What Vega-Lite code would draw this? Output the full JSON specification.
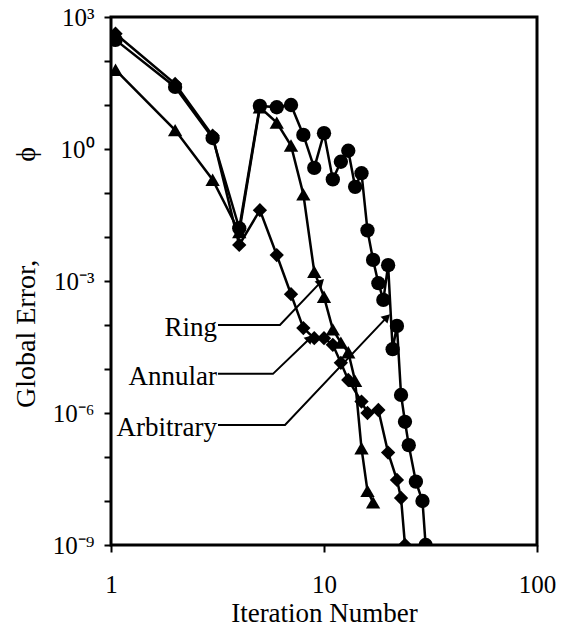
{
  "$schema": "https://vega.github.io/schema/vega-lite/v6.json",
  "width": 426,
  "height": 528,
  "autosize": {"type": "none"},
  "padding": {"left": 111, "top": 17, "right": 32, "bottom": 85},
  "background": "white",
  "datasets": {
    "series": [
      {"series": "Arbitrary", "n": 1.05, "phi": 302},
      {"series": "Arbitrary", "n": 2, "phi": 25.7},
      {"series": "Arbitrary", "n": 3, "phi": 1.78},
      {"series": "Arbitrary", "n": 4, "phi": 0.0158},
      {"series": "Arbitrary", "n": 5, "phi": 9.55},
      {"series": "Arbitrary", "n": 6, "phi": 8.9},
      {"series": "Arbitrary", "n": 7, "phi": 10.0},
      {"series": "Arbitrary", "n": 8, "phi": 2.09},
      {"series": "Arbitrary", "n": 9, "phi": 0.372},
      {"series": "Arbitrary", "n": 10, "phi": 2.29},
      {"series": "Arbitrary", "n": 11, "phi": 0.204},
      {"series": "Arbitrary", "n": 12, "phi": 0.513},
      {"series": "Arbitrary", "n": 13, "phi": 0.912},
      {"series": "Arbitrary", "n": 14, "phi": 0.138},
      {"series": "Arbitrary", "n": 15, "phi": 0.282},
      {"series": "Arbitrary", "n": 16, "phi": 0.0141},
      {"series": "Arbitrary", "n": 17, "phi": 0.00302},
      {"series": "Arbitrary", "n": 18, "phi": 0.000891},
      {"series": "Arbitrary", "n": 19, "phi": 0.000372},
      {"series": "Arbitrary", "n": 20, "phi": 0.00229},
      {"series": "Arbitrary", "n": 21, "phi": 2.82e-5},
      {"series": "Arbitrary", "n": 22, "phi": 9.55e-5},
      {"series": "Arbitrary", "n": 23, "phi": 2.57e-6},
      {"series": "Arbitrary", "n": 24, "phi": 6.31e-7},
      {"series": "Arbitrary", "n": 25, "phi": 1.86e-7},
      {"series": "Arbitrary", "n": 27, "phi": 2.75e-8},
      {"series": "Arbitrary", "n": 29, "phi": 1.0e-8},
      {"series": "Arbitrary", "n": 30, "phi": 1.0e-9},
      {"series": "Annular", "n": 1.05, "phi": 417},
      {"series": "Annular", "n": 2, "phi": 30.2},
      {"series": "Annular", "n": 3, "phi": 2.0},
      {"series": "Annular", "n": 4, "phi": 0.0066},
      {"series": "Annular", "n": 5, "phi": 0.0407},
      {"series": "Annular", "n": 6, "phi": 0.00389},
      {"series": "Annular", "n": 7, "phi": 0.000501},
      {"series": "Annular", "n": 8, "phi": 8.51e-5},
      {"series": "Annular", "n": 9, "phi": 5.01e-5},
      {"series": "Annular", "n": 10, "phi": 5.01e-5},
      {"series": "Annular", "n": 11, "phi": 3.55e-5},
      {"series": "Annular", "n": 12, "phi": 1.38e-5},
      {"series": "Annular", "n": 13, "phi": 5.62e-6},
      {"series": "Annular", "n": 15, "phi": 1.82e-6},
      {"series": "Annular", "n": 16, "phi": 1.0e-6},
      {"series": "Annular", "n": 18, "phi": 1.17e-6},
      {"series": "Annular", "n": 20, "phi": 1.26e-7},
      {"series": "Annular", "n": 22, "phi": 3.02e-8},
      {"series": "Annular", "n": 23, "phi": 1.17e-8},
      {"series": "Annular", "n": 24, "phi": 1.0e-9},
      {"series": "Ring", "n": 1.05, "phi": 63.1},
      {"series": "Ring", "n": 2, "phi": 2.69},
      {"series": "Ring", "n": 3, "phi": 0.2},
      {"series": "Ring", "n": 4, "phi": 0.0129},
      {"series": "Ring", "n": 5, "phi": 8.91},
      {"series": "Ring", "n": 6, "phi": 3.98},
      {"series": "Ring", "n": 7, "phi": 1.2},
      {"series": "Ring", "n": 8, "phi": 0.0933},
      {"series": "Ring", "n": 9, "phi": 0.00162},
      {"series": "Ring", "n": 10, "phi": 0.000437},
      {"series": "Ring", "n": 11, "phi": 7.94e-5},
      {"series": "Ring", "n": 12, "phi": 3.98e-5},
      {"series": "Ring", "n": 13, "phi": 2.4e-5},
      {"series": "Ring", "n": 14, "phi": 5.37e-6},
      {"series": "Ring", "n": 15, "phi": 1.58e-7},
      {"series": "Ring", "n": 16, "phi": 1.7e-8},
      {"series": "Ring", "n": 17, "phi": 9.33e-9}
    ],
    "arrows": [
      {"label": "Ring", "step": 1, "n": 3.18, "phi": 1.0e-4},
      {"label": "Ring", "step": 2, "n": 6.21, "phi": 1.0e-4},
      {"label": "Ring", "step": 3, "n": 9.68, "phi": 9.55e-4},
      {"label": "Annular", "step": 1, "n": 3.18, "phi": 7.76e-6},
      {"label": "Annular", "step": 2, "n": 5.76, "phi": 7.76e-6},
      {"label": "Annular", "step": 3, "n": 8.6, "phi": 5.01e-5},
      {"label": "Arbitrary", "step": 1, "n": 3.18, "phi": 5.37e-7},
      {"label": "Arbitrary", "step": 2, "n": 6.56, "phi": 5.37e-7},
      {"label": "Arbitrary", "step": 3, "n": 19.76, "phi": 1.51e-4}
    ],
    "labels": [
      {"label": "Ring", "n": 3.18, "phi": 1.0e-4},
      {"label": "Annular", "n": 3.18, "phi": 7.76e-6},
      {"label": "Arbitrary", "n": 3.18, "phi": 5.37e-7}
    ]
  },
  "encoding": {
    "x": {
      "field": "n",
      "type": "quantitative",
      "scale": {"type": "log", "domain": [1, 100], "nice": false},
      "axis": {
        "values": [1, 10, 100],
        "labelExpr": "format(datum.value, 'd')",
        "title": "Iteration Number",
        "grid": false,
        "domain": false,
        "ticks": true,
        "tickSize": 7,
        "tickWidth": 2,
        "tickColor": "black",
        "labelFont": "Liberation Serif",
        "labelFontSize": 25,
        "labelColor": "black",
        "labelPadding": 20,
        "labelFlush": false,
        "titleFont": "Liberation Serif",
        "titleFontSize": 27,
        "titleFontWeight": "normal",
        "titleColor": "black",
        "titlePadding": 3
      }
    },
    "y": {
      "field": "phi",
      "type": "quantitative",
      "scale": {"type": "log", "domain": [1e-9, 1000], "nice": false},
      "axis": {
        "values": [1e-9, 1e-8, 1e-7, 1e-6, 1e-5, 1e-4, 0.001, 0.01, 0.1, 1, 10, 100, 1000],
        "labelExpr": "datum.value > 500 ? '10³' : (datum.value > 0.5 && datum.value < 2) ? '10⁰' : (datum.value > 5e-4 && datum.value < 2e-3) ? '10⁻³' : (datum.value > 5e-7 && datum.value < 2e-6) ? '10⁻⁶' : (datum.value > 5e-10 && datum.value < 2e-9) ? '10⁻⁹' : ''",
        "title": "Global Error,\u2003\u2003\u2003\u2002ϕ",
        "titleY": 260,
        "grid": false,
        "domain": false,
        "tickSize": 7,
        "tickWidth": 2,
        "tickColor": "black",
        "labelFont": "Liberation Serif",
        "labelFontSize": 25,
        "labelColor": "black",
        "labelPadding": 10,
        "labelOverlap": false,
        "titleFont": "Liberation Serif",
        "titleFontSize": 28,
        "titleFontWeight": "normal",
        "titleColor": "black",
        "titlePadding": 12
      }
    }
  },
  "layer": [
    {
      "data": {"name": "series"},
      "mark": {"type": "line", "color": "black", "strokeWidth": 2.5, "clip": true},
      "encoding": {
        "detail": {"field": "series"},
        "order": {"field": "n"}
      }
    },
    {
      "data": {"name": "series"},
      "mark": {"type": "point", "filled": true, "opacity": 1, "color": "black", "size": 205, "clip": true},
      "encoding": {
        "shape": {
          "field": "series",
          "scale": {"domain": ["Arbitrary", "Annular", "Ring"], "range": ["circle", "diamond", "triangle-up"]},
          "legend": null
        }
      }
    },
    {
      "data": {"name": "arrows"},
      "mark": {"type": "line", "color": "black", "strokeWidth": 2},
      "encoding": {
        "detail": {"field": "label"},
        "order": {"field": "step"}
      }
    },
    {
      "data": {"name": "arrows"},
      "transform": [{"filter": "datum.step == 3"}],
      "mark": {"type": "point", "shape": "triangle-up", "angle": 45, "filled": true, "opacity": 1, "size": 95, "color": "black"}
    },
    {
      "data": {"name": "labels"},
      "mark": {"type": "text", "align": "right", "baseline": "middle", "font": "Liberation Serif", "fontSize": 27, "dx": -1, "dy": 3, "color": "black"},
      "encoding": {"text": {"field": "label"}}
    }
  ],
  "config": {
    "view": {"stroke": "black", "strokeWidth": 3},
    "axis": {"grid": false}
  }
}
